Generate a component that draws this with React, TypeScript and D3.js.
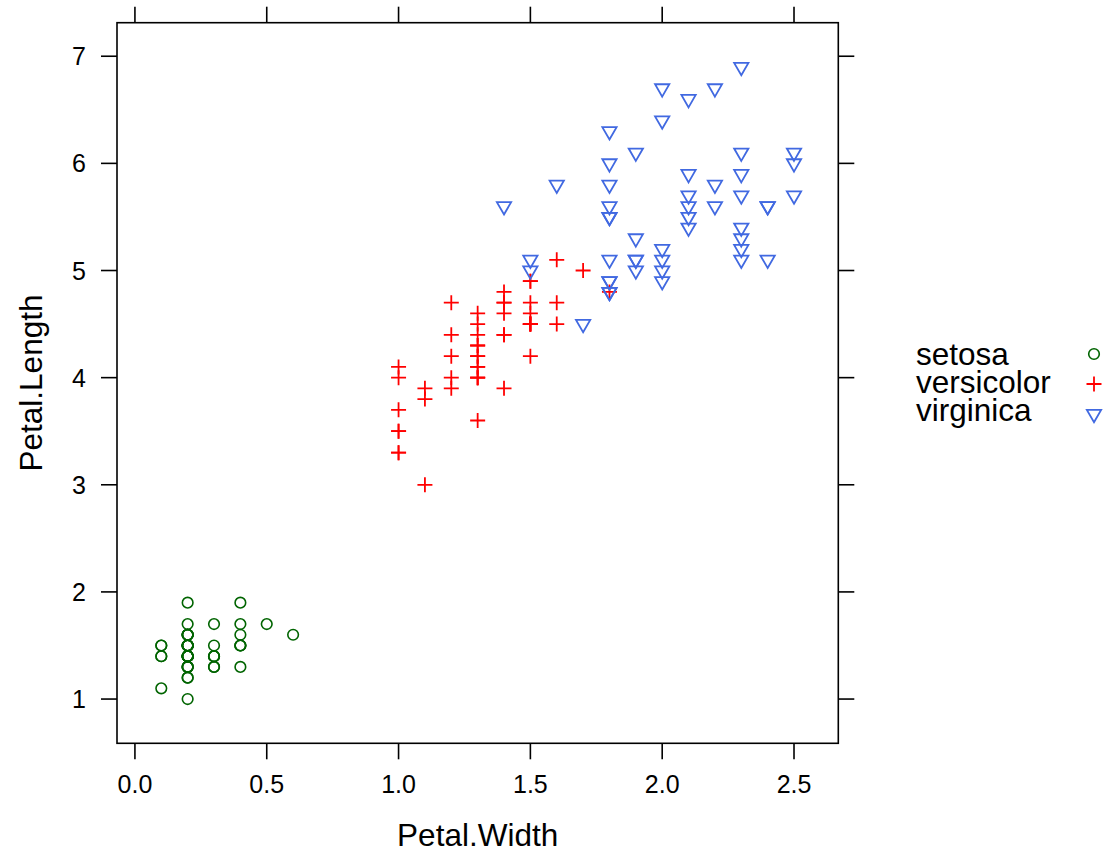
import React from "react";
import * as d3 from "d3";

const species = ["setosa", "versicolor", "virginica"];

const setosaWidth = [0.2,0.2,0.2,0.2,0.2,0.4,0.3,0.2,0.2,0.1,0.2,0.2,0.1,0.1,0.2,0.4,0.4,0.3,0.3,0.3,0.2,0.4,0.2,0.5,0.2,0.2,0.4,0.2,0.2,0.2,0.2,0.4,0.1,0.2,0.2,0.2,0.2,0.1,0.2,0.2,0.3,0.3,0.2,0.6,0.4,0.3,0.2,0.2,0.2,0.2];
const setosaLength = [1.4,1.4,1.3,1.5,1.4,1.7,1.4,1.5,1.4,1.5,1.5,1.6,1.4,1.1,1.2,1.5,1.3,1.4,1.7,1.5,1.7,1.5,1.0,1.7,1.9,1.6,1.6,1.5,1.4,1.6,1.6,1.5,1.5,1.4,1.5,1.2,1.3,1.4,1.3,1.5,1.3,1.3,1.3,1.6,1.9,1.4,1.6,1.4,1.5,1.4];

const versicolorWidth = [1.4,1.5,1.5,1.3,1.5,1.3,1.6,1.0,1.3,1.4,1.0,1.5,1.0,1.4,1.3,1.4,1.5,1.0,1.5,1.1,1.8,1.3,1.5,1.2,1.3,1.4,1.4,1.7,1.5,1.0,1.1,1.0,1.2,1.6,1.5,1.6,1.5,1.3,1.3,1.3,1.2,1.4,1.2,1.0,1.3,1.2,1.3,1.3,1.1,1.3];
const versicolorLength = [4.7,4.5,4.9,4.0,4.6,4.5,4.7,3.3,4.6,3.9,3.5,4.2,4.0,4.7,3.6,4.4,4.5,4.1,4.5,3.9,4.8,4.0,4.9,4.7,4.3,4.4,4.8,5.0,4.5,3.5,3.8,3.7,3.9,5.1,4.5,4.5,4.7,4.4,4.1,4.0,4.4,4.6,4.0,3.3,4.2,4.2,4.2,4.3,3.0,4.1];

const virginicaWidth = [2.5,1.9,2.1,1.8,2.2,2.1,1.7,1.8,1.8,2.5,2.0,1.9,2.1,2.0,2.4,2.3,1.8,2.2,2.3,1.5,2.3,2.0,2.0,1.8,2.1,1.8,1.8,1.8,2.1,1.6,1.9,2.0,2.2,1.5,1.4,2.3,2.4,1.8,1.8,2.1,2.4,2.3,1.9,2.3,2.5,2.3,1.9,2.0,2.3,1.8];
const virginicaLength = [6.0,5.1,5.9,5.6,5.8,6.6,4.5,6.3,5.8,6.1,5.1,5.3,5.5,5.0,5.1,5.3,5.5,6.7,6.9,5.0,5.7,4.9,6.7,4.9,5.7,6.0,4.8,4.9,5.6,5.8,6.1,6.4,5.6,5.1,5.6,6.1,5.6,5.5,4.8,5.4,5.6,5.1,5.1,5.9,5.7,5.2,5.0,5.2,5.4,5.1];

const xTicks = [0.0, 0.5, 1.0, 1.5, 2.0, 2.5];
const yTicks = [1, 2, 3, 4, 5, 6, 7];

const xTitle = "Petal.Width";
const yTitle = "Petal.Length";

const colors = ["#006400", "#FF0000", "#4169E1"];

const groups = [
  { name: species[0], w: setosaWidth, l: setosaLength, col: colors[0], shape: "circle" },
  { name: species[1], w: versicolorWidth, l: versicolorLength, col: colors[1], shape: "plus" },
  { name: species[2], w: virginicaWidth, l: virginicaLength, col: colors[2], shape: "tri" },
];

const S = 5.3; // symbol base radius

function Symbol({ shape, x, y, col }: { shape: string; x: number; y: number; col: string }) {
  if (shape === "circle") {
    return <circle cx={x} cy={y} r={S} fill="none" stroke={col} strokeWidth={1.6} />;
  }
  if (shape === "plus") {
    const h = Math.SQRT2 * S;
    return (
      <path
        d={`M${x - h},${y}H${x + h}M${x},${y - h}V${y + h}`}
        stroke={col}
        strokeWidth={1.8}
        fill="none"
      />
    );
  }
  const r = 1.5551 * S;
  const xc = 1.3468 * S;
  const yc = 0.7776 * S;
  return (
    <path
      d={`M${x},${y + r}L${x + xc},${y - yc}L${x - xc},${y - yc}Z`}
      stroke={col}
      strokeWidth={1.8}
      fill="none"
      strokeLinejoin="miter"
    />
  );
}

export default function App() {
  const allW = [...setosaWidth, ...versicolorWidth, ...virginicaWidth];
  const allL = [...setosaLength, ...versicolorLength, ...virginicaLength];
  const [wMin, wMax] = d3.extent(allW) as [number, number];
  const [lMin, lMax] = d3.extent(allL) as [number, number];
  const wPad = (wMax - wMin) * 0.07;
  const lPad = (lMax - lMin) * 0.07;

  const left = 117, right = 838.3, top = 22.7, bottom = 743.3;
  const x = d3.scaleLinear().domain([wMin - wPad, wMax + wPad]).range([left, right]);
  const y = d3.scaleLinear().domain([lMin - lPad, lMax + lPad]).range([bottom, top]);

  const tickLen = 16;
  const font = "'Liberation Sans', Arial, Helvetica, sans-serif";
  const titleSize = 31.5;

  return (
    <svg
      width={1108}
      height={852}
      style={{ position: "absolute", left: 0, top: 0, background: "#fff" }}
      fontFamily={font}
    >
      <rect x={0} y={0} width={1108} height={852} fill="#fff" />
      {/* ticks */}
      <g stroke="#000" strokeWidth={1.6}>
        {xTicks.map((t) => (
          <g key={"xt" + t}>
            <line x1={x(t)} x2={x(t)} y1={bottom} y2={bottom + tickLen} />
            <line x1={x(t)} x2={x(t)} y1={top} y2={top - tickLen} />
          </g>
        ))}
        {yTicks.map((t) => (
          <g key={"yt" + t}>
            <line x1={left} x2={left - tickLen} y1={y(t)} y2={y(t)} />
            <line x1={right} x2={right + tickLen} y1={y(t)} y2={y(t)} />
          </g>
        ))}
      </g>
      {/* tick labels */}
      <g fontSize={25} fill="#000">
        {xTicks.map((t) => (
          <text key={"xl" + t} x={x(t)} y={793} textAnchor="middle">
            {d3.format(".1f")(t)}
          </text>
        ))}
        {yTicks.map((t) => (
          <text key={"yl" + t} x={86} y={y(t)} textAnchor="end" dominantBaseline="central">
            {t}
          </text>
        ))}
      </g>
      {/* points */}
      {groups.map((g) => (
        <g key={g.name}>
          {g.w.map((wv, i) => (
            <Symbol key={i} shape={g.shape} x={x(wv)} y={y(g.l[i])} col={g.col} />
          ))}
        </g>
      ))}
      {/* panel border */}
      <rect
        x={left}
        y={top}
        width={right - left}
        height={bottom - top}
        fill="none"
        stroke="#000"
        strokeWidth={1.6}
      />
      {/* axis titles */}
      <text x={(left + right) / 2} y={846} textAnchor="middle" fontSize={titleSize}>
        {xTitle}
      </text>
      <text
        transform={`translate(42,${(top + bottom) / 2}) rotate(-90)`}
        textAnchor="middle"
        fontSize={titleSize}
      >
        {yTitle}
      </text>
      {/* legend */}
      {groups.map((g, i) => (
        <g key={"lg" + g.name}>
          <text x={916} y={365 + i * 28} fontSize={titleSize}>
            {g.name}
          </text>
          <Symbol shape={g.shape} x={1094} y={354 + i * 30} col={g.col} />
        </g>
      ))}
    </svg>
  );
}
